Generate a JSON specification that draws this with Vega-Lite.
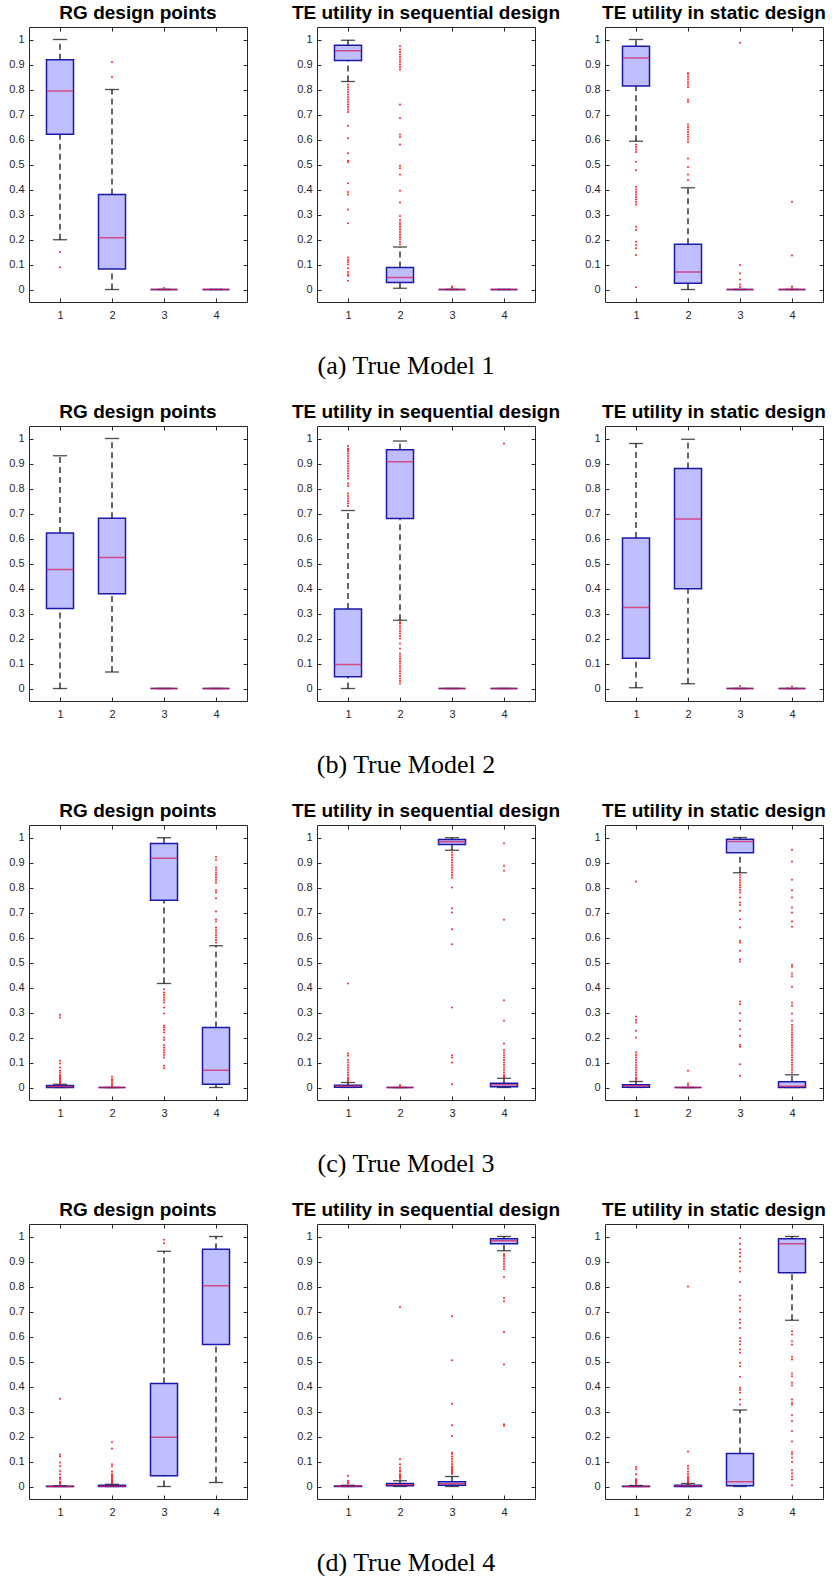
{
"$schema": "https://vega.github.io/schema/vega-lite/v6.json",
"background": "white",
"padding": {"left": 8, "top": 4, "right": 0, "bottom": 0},
"spacing": 24,
"datasets": {"d": [
{"m":"a","p":"R","c":1,"q1":0.621,"md":0.794,"q3":0.919,"lo":0.199,"hi":1},
{"m":"a","p":"R","c":2,"q1":0.082,"md":0.207,"q3":0.38,"lo":0,"hi":0.8},
{"m":"a","p":"R","c":3,"q1":0,"md":0,"q3":0,"lo":0,"hi":0},
{"m":"a","p":"R","c":4,"q1":0,"md":0,"q3":0,"lo":0,"hi":0},
{"m":"a","p":"Q","c":1,"q1":0.916,"md":0.955,"q3":0.977,"lo":0.832,"hi":0.997},
{"m":"a","p":"Q","c":2,"q1":0.028,"md":0.048,"q3":0.088,"lo":0.005,"hi":0.17},
{"m":"a","p":"Q","c":3,"q1":0,"md":0,"q3":0,"lo":0,"hi":0},
{"m":"a","p":"Q","c":4,"q1":0,"md":0,"q3":0,"lo":0,"hi":0},
{"m":"a","p":"S","c":1,"q1":0.814,"md":0.926,"q3":0.973,"lo":0.593,"hi":1},
{"m":"a","p":"S","c":2,"q1":0.025,"md":0.07,"q3":0.181,"lo":0,"hi":0.407},
{"m":"a","p":"S","c":3,"q1":0,"md":0,"q3":0,"lo":0,"hi":0},
{"m":"a","p":"S","c":4,"q1":0,"md":0,"q3":0,"lo":0,"hi":0},
{"m":"b","p":"R","c":1,"q1":0.32,"md":0.476,"q3":0.622,"lo":0,"hi":0.931},
{"m":"b","p":"R","c":2,"q1":0.379,"md":0.524,"q3":0.681,"lo":0.066,"hi":1},
{"m":"b","p":"R","c":3,"q1":0,"md":0,"q3":0,"lo":0,"hi":0},
{"m":"b","p":"R","c":4,"q1":0,"md":0,"q3":0,"lo":0,"hi":0},
{"m":"b","p":"Q","c":1,"q1":0.047,"md":0.096,"q3":0.318,"lo":0,"hi":0.712},
{"m":"b","p":"Q","c":2,"q1":0.68,"md":0.907,"q3":0.955,"lo":0.273,"hi":0.99},
{"m":"b","p":"Q","c":3,"q1":0,"md":0,"q3":0,"lo":0,"hi":0},
{"m":"b","p":"Q","c":4,"q1":0,"md":0,"q3":0,"lo":0,"hi":0},
{"m":"b","p":"S","c":1,"q1":0.121,"md":0.324,"q3":0.602,"lo":0.003,"hi":0.98},
{"m":"b","p":"S","c":2,"q1":0.399,"md":0.678,"q3":0.88,"lo":0.019,"hi":0.997},
{"m":"b","p":"S","c":3,"q1":0,"md":0,"q3":0,"lo":0,"hi":0},
{"m":"b","p":"S","c":4,"q1":0,"md":0,"q3":0,"lo":0,"hi":0},
{"m":"c","p":"R","c":1,"q1":0,"md":0.004,"q3":0.008,"lo":0,"hi":0.013},
{"m":"c","p":"R","c":2,"q1":0,"md":0,"q3":0,"lo":0,"hi":0},
{"m":"c","p":"R","c":3,"q1":0.749,"md":0.917,"q3":0.976,"lo":0.416,"hi":0.999},
{"m":"c","p":"R","c":4,"q1":0.013,"md":0.069,"q3":0.24,"lo":0,"hi":0.567},
{"m":"c","p":"Q","c":1,"q1":0.001,"md":0.006,"q3":0.009,"lo":0,"hi":0.02},
{"m":"c","p":"Q","c":2,"q1":0,"md":0,"q3":0,"lo":0,"hi":0},
{"m":"c","p":"Q","c":3,"q1":0.972,"md":0.983,"q3":0.992,"lo":0.949,"hi":0.999},
{"m":"c","p":"Q","c":4,"q1":0.003,"md":0.011,"q3":0.017,"lo":0,"hi":0.037},
{"m":"c","p":"S","c":1,"q1":0.001,"md":0.007,"q3":0.011,"lo":0,"hi":0.024},
{"m":"c","p":"S","c":2,"q1":0,"md":0,"q3":0,"lo":0,"hi":0},
{"m":"c","p":"S","c":3,"q1":0.939,"md":0.984,"q3":0.993,"lo":0.859,"hi":1},
{"m":"c","p":"S","c":4,"q1":0,"md":0.005,"q3":0.023,"lo":0,"hi":0.051},
{"m":"d","p":"R","c":1,"q1":0,"md":0,"q3":0.001,"lo":0,"hi":0.003},
{"m":"d","p":"R","c":2,"q1":0,"md":0.001,"q3":0.005,"lo":0,"hi":0.009},
{"m":"d","p":"R","c":3,"q1":0.043,"md":0.197,"q3":0.412,"lo":0,"hi":0.941},
{"m":"d","p":"R","c":4,"q1":0.568,"md":0.803,"q3":0.949,"lo":0.016,"hi":1},
{"m":"d","p":"Q","c":1,"q1":0,"md":0.001,"q3":0.002,"lo":0,"hi":0.005},
{"m":"d","p":"Q","c":2,"q1":0.003,"md":0.007,"q3":0.012,"lo":0,"hi":0.023},
{"m":"d","p":"Q","c":3,"q1":0.005,"md":0.011,"q3":0.019,"lo":0,"hi":0.04},
{"m":"d","p":"Q","c":4,"q1":0.971,"md":0.983,"q3":0.991,"lo":0.943,"hi":1},
{"m":"d","p":"S","c":1,"q1":0,"md":0,"q3":0.001,"lo":0,"hi":0.004},
{"m":"d","p":"S","c":2,"q1":0,"md":0.003,"q3":0.005,"lo":0,"hi":0.012},
{"m":"d","p":"S","c":3,"q1":0.003,"md":0.019,"q3":0.132,"lo":0,"hi":0.306},
{"m":"d","p":"S","c":4,"q1":0.855,"md":0.971,"q3":0.991,"lo":0.665,"hi":1},
{"m":"a","p":"R","c":1,"v":0.15},{"m":"a","p":"R","c":1,"v":0.089},
{"m":"a","p":"R","c":2,"v":0.85},{"m":"a","p":"R","c":2,"v":0.91},
{"m":"a","p":"R","c":3,"v":0.006},
{"m":"a","p":"Q","c":1,"v":0.82},{"m":"a","p":"Q","c":1,"v":0.81},{"m":"a","p":"Q","c":1,"v":0.8},{"m":"a","p":"Q","c":1,"v":0.79},{"m":"a","p":"Q","c":1,"v":0.78},{"m":"a","p":"Q","c":1,"v":0.77},{"m":"a","p":"Q","c":1,"v":0.76},{"m":"a","p":"Q","c":1,"v":0.75},{"m":"a","p":"Q","c":1,"v":0.74},{"m":"a","p":"Q","c":1,"v":0.73},{"m":"a","p":"Q","c":1,"v":0.72},{"m":"a","p":"Q","c":1,"v":0.71},{"m":"a","p":"Q","c":1,"v":0.655},{"m":"a","p":"Q","c":1,"v":0.605},{"m":"a","p":"Q","c":1,"v":0.545},{"m":"a","p":"Q","c":1,"v":0.515},{"m":"a","p":"Q","c":1,"v":0.51},{"m":"a","p":"Q","c":1,"v":0.425},{"m":"a","p":"Q","c":1,"v":0.39},{"m":"a","p":"Q","c":1,"v":0.38},{"m":"a","p":"Q","c":1,"v":0.32},{"m":"a","p":"Q","c":1,"v":0.265},{"m":"a","p":"Q","c":1,"v":0.128},{"m":"a","p":"Q","c":1,"v":0.118},{"m":"a","p":"Q","c":1,"v":0.11},{"m":"a","p":"Q","c":1,"v":0.1},{"m":"a","p":"Q","c":1,"v":0.085},{"m":"a","p":"Q","c":1,"v":0.07},{"m":"a","p":"Q","c":1,"v":0.06},{"m":"a","p":"Q","c":1,"v":0.055},{"m":"a","p":"Q","c":1,"v":0.035},
{"m":"a","p":"Q","c":2,"v":0.973},{"m":"a","p":"Q","c":2,"v":0.96},{"m":"a","p":"Q","c":2,"v":0.95},{"m":"a","p":"Q","c":2,"v":0.94},{"m":"a","p":"Q","c":2,"v":0.93},{"m":"a","p":"Q","c":2,"v":0.92},{"m":"a","p":"Q","c":2,"v":0.91},{"m":"a","p":"Q","c":2,"v":0.9},{"m":"a","p":"Q","c":2,"v":0.89},{"m":"a","p":"Q","c":2,"v":0.88},{"m":"a","p":"Q","c":2,"v":0.74},{"m":"a","p":"Q","c":2,"v":0.686},{"m":"a","p":"Q","c":2,"v":0.62},{"m":"a","p":"Q","c":2,"v":0.61},{"m":"a","p":"Q","c":2,"v":0.58},{"m":"a","p":"Q","c":2,"v":0.495},{"m":"a","p":"Q","c":2,"v":0.485},{"m":"a","p":"Q","c":2,"v":0.46},{"m":"a","p":"Q","c":2,"v":0.395},{"m":"a","p":"Q","c":2,"v":0.348},{"m":"a","p":"Q","c":2,"v":0.294},{"m":"a","p":"Q","c":2,"v":0.278},{"m":"a","p":"Q","c":2,"v":0.267},{"m":"a","p":"Q","c":2,"v":0.26},{"m":"a","p":"Q","c":2,"v":0.25},{"m":"a","p":"Q","c":2,"v":0.24},{"m":"a","p":"Q","c":2,"v":0.23},{"m":"a","p":"Q","c":2,"v":0.22},{"m":"a","p":"Q","c":2,"v":0.21},{"m":"a","p":"Q","c":2,"v":0.2},{"m":"a","p":"Q","c":2,"v":0.19},{"m":"a","p":"Q","c":2,"v":0.18},
{"m":"a","p":"Q","c":3,"v":0.012},{"m":"a","p":"Q","c":3,"v":0.007},
{"m":"a","p":"S","c":1,"v":0.58},{"m":"a","p":"S","c":1,"v":0.57},{"m":"a","p":"S","c":1,"v":0.56},{"m":"a","p":"S","c":1,"v":0.55},{"m":"a","p":"S","c":1,"v":0.511},{"m":"a","p":"S","c":1,"v":0.477},{"m":"a","p":"S","c":1,"v":0.411},{"m":"a","p":"S","c":1,"v":0.4},{"m":"a","p":"S","c":1,"v":0.39},{"m":"a","p":"S","c":1,"v":0.38},{"m":"a","p":"S","c":1,"v":0.37},{"m":"a","p":"S","c":1,"v":0.36},{"m":"a","p":"S","c":1,"v":0.35},{"m":"a","p":"S","c":1,"v":0.34},{"m":"a","p":"S","c":1,"v":0.251},{"m":"a","p":"S","c":1,"v":0.238},{"m":"a","p":"S","c":1,"v":0.191},{"m":"a","p":"S","c":1,"v":0.178},{"m":"a","p":"S","c":1,"v":0.165},{"m":"a","p":"S","c":1,"v":0.138},{"m":"a","p":"S","c":1,"v":0.009},
{"m":"a","p":"S","c":2,"v":0.866},{"m":"a","p":"S","c":2,"v":0.86},{"m":"a","p":"S","c":2,"v":0.85},{"m":"a","p":"S","c":2,"v":0.84},{"m":"a","p":"S","c":2,"v":0.83},{"m":"a","p":"S","c":2,"v":0.82},{"m":"a","p":"S","c":2,"v":0.81},{"m":"a","p":"S","c":2,"v":0.759},{"m":"a","p":"S","c":2,"v":0.75},{"m":"a","p":"S","c":2,"v":0.66},{"m":"a","p":"S","c":2,"v":0.65},{"m":"a","p":"S","c":2,"v":0.64},{"m":"a","p":"S","c":2,"v":0.63},{"m":"a","p":"S","c":2,"v":0.62},{"m":"a","p":"S","c":2,"v":0.61},{"m":"a","p":"S","c":2,"v":0.6},{"m":"a","p":"S","c":2,"v":0.59},{"m":"a","p":"S","c":2,"v":0.524},{"m":"a","p":"S","c":2,"v":0.49},{"m":"a","p":"S","c":2,"v":0.46},{"m":"a","p":"S","c":2,"v":0.437},
{"m":"a","p":"S","c":3,"v":0.987},{"m":"a","p":"S","c":3,"v":0.098},{"m":"a","p":"S","c":3,"v":0.065},{"m":"a","p":"S","c":3,"v":0.04},{"m":"a","p":"S","c":3,"v":0.02},{"m":"a","p":"S","c":3,"v":0.01},
{"m":"a","p":"S","c":4,"v":0.351},{"m":"a","p":"S","c":4,"v":0.136},{"m":"a","p":"S","c":4,"v":0.012},{"m":"a","p":"S","c":4,"v":0.005},
{"m":"b","p":"Q","c":1,"v":0.97},{"m":"b","p":"Q","c":1,"v":0.96},{"m":"b","p":"Q","c":1,"v":0.955},{"m":"b","p":"Q","c":1,"v":0.95},{"m":"b","p":"Q","c":1,"v":0.94},{"m":"b","p":"Q","c":1,"v":0.93},{"m":"b","p":"Q","c":1,"v":0.92},{"m":"b","p":"Q","c":1,"v":0.91},{"m":"b","p":"Q","c":1,"v":0.9},{"m":"b","p":"Q","c":1,"v":0.89},{"m":"b","p":"Q","c":1,"v":0.88},{"m":"b","p":"Q","c":1,"v":0.87},{"m":"b","p":"Q","c":1,"v":0.86},{"m":"b","p":"Q","c":1,"v":0.85},{"m":"b","p":"Q","c":1,"v":0.84},{"m":"b","p":"Q","c":1,"v":0.82},{"m":"b","p":"Q","c":1,"v":0.81},{"m":"b","p":"Q","c":1,"v":0.78},{"m":"b","p":"Q","c":1,"v":0.77},{"m":"b","p":"Q","c":1,"v":0.76},{"m":"b","p":"Q","c":1,"v":0.75},{"m":"b","p":"Q","c":1,"v":0.74},{"m":"b","p":"Q","c":1,"v":0.73},
{"m":"b","p":"Q","c":2,"v":0.265},{"m":"b","p":"Q","c":2,"v":0.26},{"m":"b","p":"Q","c":2,"v":0.25},{"m":"b","p":"Q","c":2,"v":0.24},{"m":"b","p":"Q","c":2,"v":0.23},{"m":"b","p":"Q","c":2,"v":0.22},{"m":"b","p":"Q","c":2,"v":0.21},{"m":"b","p":"Q","c":2,"v":0.2},{"m":"b","p":"Q","c":2,"v":0.18},{"m":"b","p":"Q","c":2,"v":0.16},{"m":"b","p":"Q","c":2,"v":0.14},{"m":"b","p":"Q","c":2,"v":0.13},{"m":"b","p":"Q","c":2,"v":0.12},{"m":"b","p":"Q","c":2,"v":0.11},{"m":"b","p":"Q","c":2,"v":0.1},{"m":"b","p":"Q","c":2,"v":0.09},{"m":"b","p":"Q","c":2,"v":0.08},{"m":"b","p":"Q","c":2,"v":0.07},{"m":"b","p":"Q","c":2,"v":0.06},{"m":"b","p":"Q","c":2,"v":0.05},{"m":"b","p":"Q","c":2,"v":0.04},{"m":"b","p":"Q","c":2,"v":0.03},{"m":"b","p":"Q","c":2,"v":0.02},
{"m":"b","p":"Q","c":4,"v":0.98},
{"m":"b","p":"S","c":3,"v":0.01},{"m":"b","p":"S","c":4,"v":0.008},
{"m":"c","p":"R","c":1,"v":0.291},{"m":"c","p":"R","c":1,"v":0.28},{"m":"c","p":"R","c":1,"v":0.107},{"m":"c","p":"R","c":1,"v":0.096},{"m":"c","p":"R","c":1,"v":0.08},{"m":"c","p":"R","c":1,"v":0.067},{"m":"c","p":"R","c":1,"v":0.06},{"m":"c","p":"R","c":1,"v":0.05},{"m":"c","p":"R","c":1,"v":0.045},{"m":"c","p":"R","c":1,"v":0.04},{"m":"c","p":"R","c":1,"v":0.035},{"m":"c","p":"R","c":1,"v":0.03},{"m":"c","p":"R","c":1,"v":0.025},{"m":"c","p":"R","c":1,"v":0.02},{"m":"c","p":"R","c":1,"v":0.015},
{"m":"c","p":"R","c":2,"v":0.043},{"m":"c","p":"R","c":2,"v":0.033},{"m":"c","p":"R","c":2,"v":0.027},{"m":"c","p":"R","c":2,"v":0.02},{"m":"c","p":"R","c":2,"v":0.013},{"m":"c","p":"R","c":2,"v":0.007},
{"m":"c","p":"R","c":3,"v":0.393},{"m":"c","p":"R","c":3,"v":0.38},{"m":"c","p":"R","c":3,"v":0.37},{"m":"c","p":"R","c":3,"v":0.36},{"m":"c","p":"R","c":3,"v":0.35},{"m":"c","p":"R","c":3,"v":0.34},{"m":"c","p":"R","c":3,"v":0.32},{"m":"c","p":"R","c":3,"v":0.296},{"m":"c","p":"R","c":3,"v":0.247},{"m":"c","p":"R","c":3,"v":0.24},{"m":"c","p":"R","c":3,"v":0.23},{"m":"c","p":"R","c":3,"v":0.22},{"m":"c","p":"R","c":3,"v":0.2},{"m":"c","p":"R","c":3,"v":0.19},{"m":"c","p":"R","c":3,"v":0.17},{"m":"c","p":"R","c":3,"v":0.16},{"m":"c","p":"R","c":3,"v":0.15},{"m":"c","p":"R","c":3,"v":0.14},{"m":"c","p":"R","c":3,"v":0.13},{"m":"c","p":"R","c":3,"v":0.12},{"m":"c","p":"R","c":3,"v":0.087},{"m":"c","p":"R","c":3,"v":0.077},
{"m":"c","p":"R","c":4,"v":0.923},{"m":"c","p":"R","c":4,"v":0.911},{"m":"c","p":"R","c":4,"v":0.88},{"m":"c","p":"R","c":4,"v":0.87},{"m":"c","p":"R","c":4,"v":0.86},{"m":"c","p":"R","c":4,"v":0.85},{"m":"c","p":"R","c":4,"v":0.84},{"m":"c","p":"R","c":4,"v":0.83},{"m":"c","p":"R","c":4,"v":0.82},{"m":"c","p":"R","c":4,"v":0.789},{"m":"c","p":"R","c":4,"v":0.78},{"m":"c","p":"R","c":4,"v":0.757},{"m":"c","p":"R","c":4,"v":0.704},{"m":"c","p":"R","c":4,"v":0.673},{"m":"c","p":"R","c":4,"v":0.664},{"m":"c","p":"R","c":4,"v":0.64},{"m":"c","p":"R","c":4,"v":0.63},{"m":"c","p":"R","c":4,"v":0.62},{"m":"c","p":"R","c":4,"v":0.61},{"m":"c","p":"R","c":4,"v":0.6},{"m":"c","p":"R","c":4,"v":0.59},{"m":"c","p":"R","c":4,"v":0.58},
{"m":"c","p":"Q","c":1,"v":0.416},{"m":"c","p":"Q","c":1,"v":0.136},{"m":"c","p":"Q","c":1,"v":0.127},{"m":"c","p":"Q","c":1,"v":0.11},{"m":"c","p":"Q","c":1,"v":0.1},{"m":"c","p":"Q","c":1,"v":0.09},{"m":"c","p":"Q","c":1,"v":0.08},{"m":"c","p":"Q","c":1,"v":0.07},{"m":"c","p":"Q","c":1,"v":0.06},{"m":"c","p":"Q","c":1,"v":0.05},{"m":"c","p":"Q","c":1,"v":0.04},{"m":"c","p":"Q","c":1,"v":0.035},{"m":"c","p":"Q","c":1,"v":0.03},{"m":"c","p":"Q","c":1,"v":0.025},
{"m":"c","p":"Q","c":2,"v":0.01},{"m":"c","p":"Q","c":2,"v":0.006},
{"m":"c","p":"Q","c":3,"v":0.94},{"m":"c","p":"Q","c":3,"v":0.93},{"m":"c","p":"Q","c":3,"v":0.92},{"m":"c","p":"Q","c":3,"v":0.91},{"m":"c","p":"Q","c":3,"v":0.9},{"m":"c","p":"Q","c":3,"v":0.89},{"m":"c","p":"Q","c":3,"v":0.88},{"m":"c","p":"Q","c":3,"v":0.87},{"m":"c","p":"Q","c":3,"v":0.86},{"m":"c","p":"Q","c":3,"v":0.85},{"m":"c","p":"Q","c":3,"v":0.84},{"m":"c","p":"Q","c":3,"v":0.8},{"m":"c","p":"Q","c":3,"v":0.717},{"m":"c","p":"Q","c":3,"v":0.7},{"m":"c","p":"Q","c":3,"v":0.633},{"m":"c","p":"Q","c":3,"v":0.573},{"m":"c","p":"Q","c":3,"v":0.32},{"m":"c","p":"Q","c":3,"v":0.129},{"m":"c","p":"Q","c":3,"v":0.12},{"m":"c","p":"Q","c":3,"v":0.1},{"m":"c","p":"Q","c":3,"v":0.013},
{"m":"c","p":"Q","c":4,"v":0.977},{"m":"c","p":"Q","c":4,"v":0.887},{"m":"c","p":"Q","c":4,"v":0.867},{"m":"c","p":"Q","c":4,"v":0.671},{"m":"c","p":"Q","c":4,"v":0.349},{"m":"c","p":"Q","c":4,"v":0.267},{"m":"c","p":"Q","c":4,"v":0.176},{"m":"c","p":"Q","c":4,"v":0.15},{"m":"c","p":"Q","c":4,"v":0.14},{"m":"c","p":"Q","c":4,"v":0.13},{"m":"c","p":"Q","c":4,"v":0.12},{"m":"c","p":"Q","c":4,"v":0.11},{"m":"c","p":"Q","c":4,"v":0.1},{"m":"c","p":"Q","c":4,"v":0.09},{"m":"c","p":"Q","c":4,"v":0.08},{"m":"c","p":"Q","c":4,"v":0.07},{"m":"c","p":"Q","c":4,"v":0.06},{"m":"c","p":"Q","c":4,"v":0.05},{"m":"c","p":"Q","c":4,"v":0.045},{"m":"c","p":"Q","c":4,"v":0.04},
{"m":"c","p":"S","c":1,"v":0.824},{"m":"c","p":"S","c":1,"v":0.284},{"m":"c","p":"S","c":1,"v":0.27},{"m":"c","p":"S","c":1,"v":0.26},{"m":"c","p":"S","c":1,"v":0.227},{"m":"c","p":"S","c":1,"v":0.2},{"m":"c","p":"S","c":1,"v":0.14},{"m":"c","p":"S","c":1,"v":0.13},{"m":"c","p":"S","c":1,"v":0.12},{"m":"c","p":"S","c":1,"v":0.11},{"m":"c","p":"S","c":1,"v":0.1},{"m":"c","p":"S","c":1,"v":0.09},{"m":"c","p":"S","c":1,"v":0.08},{"m":"c","p":"S","c":1,"v":0.07},{"m":"c","p":"S","c":1,"v":0.06},{"m":"c","p":"S","c":1,"v":0.05},{"m":"c","p":"S","c":1,"v":0.04},{"m":"c","p":"S","c":1,"v":0.035},{"m":"c","p":"S","c":1,"v":0.03},
{"m":"c","p":"S","c":2,"v":0.067},{"m":"c","p":"S","c":2,"v":0.016},{"m":"c","p":"S","c":2,"v":0.009},
{"m":"c","p":"S","c":3,"v":0.85},{"m":"c","p":"S","c":3,"v":0.84},{"m":"c","p":"S","c":3,"v":0.83},{"m":"c","p":"S","c":3,"v":0.82},{"m":"c","p":"S","c":3,"v":0.81},{"m":"c","p":"S","c":3,"v":0.8},{"m":"c","p":"S","c":3,"v":0.79},{"m":"c","p":"S","c":3,"v":0.78},{"m":"c","p":"S","c":3,"v":0.76},{"m":"c","p":"S","c":3,"v":0.74},{"m":"c","p":"S","c":3,"v":0.73},{"m":"c","p":"S","c":3,"v":0.707},{"m":"c","p":"S","c":3,"v":0.673},{"m":"c","p":"S","c":3,"v":0.64},{"m":"c","p":"S","c":3,"v":0.587},{"m":"c","p":"S","c":3,"v":0.58},{"m":"c","p":"S","c":3,"v":0.547},{"m":"c","p":"S","c":3,"v":0.513},{"m":"c","p":"S","c":3,"v":0.504},{"m":"c","p":"S","c":3,"v":0.344},{"m":"c","p":"S","c":3,"v":0.333},{"m":"c","p":"S","c":3,"v":0.297},{"m":"c","p":"S","c":3,"v":0.267},{"m":"c","p":"S","c":3,"v":0.233},{"m":"c","p":"S","c":3,"v":0.207},{"m":"c","p":"S","c":3,"v":0.171},{"m":"c","p":"S","c":3,"v":0.163},{"m":"c","p":"S","c":3,"v":0.093},{"m":"c","p":"S","c":3,"v":0.047},
{"m":"c","p":"S","c":4,"v":0.951},{"m":"c","p":"S","c":4,"v":0.904},{"m":"c","p":"S","c":4,"v":0.831},{"m":"c","p":"S","c":4,"v":0.789},{"m":"c","p":"S","c":4,"v":0.76},{"m":"c","p":"S","c":4,"v":0.72},{"m":"c","p":"S","c":4,"v":0.7},{"m":"c","p":"S","c":4,"v":0.664},{"m":"c","p":"S","c":4,"v":0.643},{"m":"c","p":"S","c":4,"v":0.491},{"m":"c","p":"S","c":4,"v":0.483},{"m":"c","p":"S","c":4,"v":0.456},{"m":"c","p":"S","c":4,"v":0.445},{"m":"c","p":"S","c":4,"v":0.403},{"m":"c","p":"S","c":4,"v":0.339},{"m":"c","p":"S","c":4,"v":0.327},{"m":"c","p":"S","c":4,"v":0.296},{"m":"c","p":"S","c":4,"v":0.267},{"m":"c","p":"S","c":4,"v":0.25},{"m":"c","p":"S","c":4,"v":0.24},{"m":"c","p":"S","c":4,"v":0.23},{"m":"c","p":"S","c":4,"v":0.22},{"m":"c","p":"S","c":4,"v":0.21},{"m":"c","p":"S","c":4,"v":0.2},{"m":"c","p":"S","c":4,"v":0.19},{"m":"c","p":"S","c":4,"v":0.18},{"m":"c","p":"S","c":4,"v":0.17},{"m":"c","p":"S","c":4,"v":0.16},{"m":"c","p":"S","c":4,"v":0.15},{"m":"c","p":"S","c":4,"v":0.14},{"m":"c","p":"S","c":4,"v":0.13},{"m":"c","p":"S","c":4,"v":0.12},{"m":"c","p":"S","c":4,"v":0.11},{"m":"c","p":"S","c":4,"v":0.1},{"m":"c","p":"S","c":4,"v":0.09},{"m":"c","p":"S","c":4,"v":0.08},{"m":"c","p":"S","c":4,"v":0.07},{"m":"c","p":"S","c":4,"v":0.06},
{"m":"d","p":"R","c":1,"v":0.351},{"m":"d","p":"R","c":1,"v":0.128},{"m":"d","p":"R","c":1,"v":0.12},{"m":"d","p":"R","c":1,"v":0.096},{"m":"d","p":"R","c":1,"v":0.082},{"m":"d","p":"R","c":1,"v":0.062},{"m":"d","p":"R","c":1,"v":0.049},{"m":"d","p":"R","c":1,"v":0.036},{"m":"d","p":"R","c":1,"v":0.03},{"m":"d","p":"R","c":1,"v":0.02},{"m":"d","p":"R","c":1,"v":0.015},{"m":"d","p":"R","c":1,"v":0.01},
{"m":"d","p":"R","c":2,"v":0.178},{"m":"d","p":"R","c":2,"v":0.152},{"m":"d","p":"R","c":2,"v":0.089},{"m":"d","p":"R","c":2,"v":0.08},{"m":"d","p":"R","c":2,"v":0.06},{"m":"d","p":"R","c":2,"v":0.05},{"m":"d","p":"R","c":2,"v":0.045},{"m":"d","p":"R","c":2,"v":0.04},{"m":"d","p":"R","c":2,"v":0.035},{"m":"d","p":"R","c":2,"v":0.03},{"m":"d","p":"R","c":2,"v":0.025},{"m":"d","p":"R","c":2,"v":0.02},{"m":"d","p":"R","c":2,"v":0.015},{"m":"d","p":"R","c":2,"v":0.012},
{"m":"d","p":"R","c":3,"v":0.987},{"m":"d","p":"R","c":3,"v":0.973},
{"m":"d","p":"Q","c":1,"v":0.043},{"m":"d","p":"Q","c":1,"v":0.023},{"m":"d","p":"Q","c":1,"v":0.016},{"m":"d","p":"Q","c":1,"v":0.012},
{"m":"d","p":"Q","c":2,"v":0.718},{"m":"d","p":"Q","c":2,"v":0.109},{"m":"d","p":"Q","c":2,"v":0.089},{"m":"d","p":"Q","c":2,"v":0.075},{"m":"d","p":"Q","c":2,"v":0.065},{"m":"d","p":"Q","c":2,"v":0.06},{"m":"d","p":"Q","c":2,"v":0.05},{"m":"d","p":"Q","c":2,"v":0.045},{"m":"d","p":"Q","c":2,"v":0.04},{"m":"d","p":"Q","c":2,"v":0.035},{"m":"d","p":"Q","c":2,"v":0.03},
{"m":"d","p":"Q","c":3,"v":0.681},{"m":"d","p":"Q","c":3,"v":0.505},{"m":"d","p":"Q","c":3,"v":0.331},{"m":"d","p":"Q","c":3,"v":0.245},{"m":"d","p":"Q","c":3,"v":0.202},{"m":"d","p":"Q","c":3,"v":0.135},{"m":"d","p":"Q","c":3,"v":0.13},{"m":"d","p":"Q","c":3,"v":0.12},{"m":"d","p":"Q","c":3,"v":0.11},{"m":"d","p":"Q","c":3,"v":0.1},{"m":"d","p":"Q","c":3,"v":0.09},{"m":"d","p":"Q","c":3,"v":0.08},{"m":"d","p":"Q","c":3,"v":0.075},{"m":"d","p":"Q","c":3,"v":0.07},{"m":"d","p":"Q","c":3,"v":0.065},{"m":"d","p":"Q","c":3,"v":0.06},{"m":"d","p":"Q","c":3,"v":0.055},{"m":"d","p":"Q","c":3,"v":0.05},
{"m":"d","p":"Q","c":4,"v":0.93},{"m":"d","p":"Q","c":4,"v":0.925},{"m":"d","p":"Q","c":4,"v":0.92},{"m":"d","p":"Q","c":4,"v":0.91},{"m":"d","p":"Q","c":4,"v":0.9},{"m":"d","p":"Q","c":4,"v":0.89},{"m":"d","p":"Q","c":4,"v":0.88},{"m":"d","p":"Q","c":4,"v":0.87},{"m":"d","p":"Q","c":4,"v":0.838},{"m":"d","p":"Q","c":4,"v":0.754},{"m":"d","p":"Q","c":4,"v":0.741},{"m":"d","p":"Q","c":4,"v":0.618},{"m":"d","p":"Q","c":4,"v":0.488},{"m":"d","p":"Q","c":4,"v":0.249},{"m":"d","p":"Q","c":4,"v":0.242},
{"m":"d","p":"S","c":1,"v":0.078},{"m":"d","p":"S","c":1,"v":0.069},{"m":"d","p":"S","c":1,"v":0.049},{"m":"d","p":"S","c":1,"v":0.03},{"m":"d","p":"S","c":1,"v":0.025},{"m":"d","p":"S","c":1,"v":0.02},{"m":"d","p":"S","c":1,"v":0.015},{"m":"d","p":"S","c":1,"v":0.01},
{"m":"d","p":"S","c":2,"v":0.8},{"m":"d","p":"S","c":2,"v":0.14},{"m":"d","p":"S","c":2,"v":0.082},{"m":"d","p":"S","c":2,"v":0.072},{"m":"d","p":"S","c":2,"v":0.06},{"m":"d","p":"S","c":2,"v":0.05},{"m":"d","p":"S","c":2,"v":0.04},{"m":"d","p":"S","c":2,"v":0.035},{"m":"d","p":"S","c":2,"v":0.03},{"m":"d","p":"S","c":2,"v":0.025},{"m":"d","p":"S","c":2,"v":0.02},{"m":"d","p":"S","c":2,"v":0.015},
{"m":"d","p":"S","c":3,"v":0.993},{"m":"d","p":"S","c":3,"v":0.971},{"m":"d","p":"S","c":3,"v":0.949},{"m":"d","p":"S","c":3,"v":0.934},{"m":"d","p":"S","c":3,"v":0.92},{"m":"d","p":"S","c":3,"v":0.9},{"m":"d","p":"S","c":3,"v":0.874},{"m":"d","p":"S","c":3,"v":0.86},{"m":"d","p":"S","c":3,"v":0.818},{"m":"d","p":"S","c":3,"v":0.763},{"m":"d","p":"S","c":3,"v":0.747},{"m":"d","p":"S","c":3,"v":0.714},{"m":"d","p":"S","c":3,"v":0.7},{"m":"d","p":"S","c":3,"v":0.668},{"m":"d","p":"S","c":3,"v":0.654},{"m":"d","p":"S","c":3,"v":0.634},{"m":"d","p":"S","c":3,"v":0.594},{"m":"d","p":"S","c":3,"v":0.581},{"m":"d","p":"S","c":3,"v":0.568},{"m":"d","p":"S","c":3,"v":0.548},{"m":"d","p":"S","c":3,"v":0.535},{"m":"d","p":"S","c":3,"v":0.495},{"m":"d","p":"S","c":3,"v":0.481},{"m":"d","p":"S","c":3,"v":0.439},{"m":"d","p":"S","c":3,"v":0.395},{"m":"d","p":"S","c":3,"v":0.386},{"m":"d","p":"S","c":3,"v":0.375},{"m":"d","p":"S","c":3,"v":0.348},{"m":"d","p":"S","c":3,"v":0.328},
{"m":"d","p":"S","c":4,"v":0.621},{"m":"d","p":"S","c":4,"v":0.608},{"m":"d","p":"S","c":4,"v":0.581},{"m":"d","p":"S","c":4,"v":0.568},{"m":"d","p":"S","c":4,"v":0.519},{"m":"d","p":"S","c":4,"v":0.508},{"m":"d","p":"S","c":4,"v":0.452},{"m":"d","p":"S","c":4,"v":0.441},{"m":"d","p":"S","c":4,"v":0.415},{"m":"d","p":"S","c":4,"v":0.404},{"m":"d","p":"S","c":4,"v":0.348},{"m":"d","p":"S","c":4,"v":0.335},{"m":"d","p":"S","c":4,"v":0.328},{"m":"d","p":"S","c":4,"v":0.285},{"m":"d","p":"S","c":4,"v":0.262},{"m":"d","p":"S","c":4,"v":0.222},{"m":"d","p":"S","c":4,"v":0.18},{"m":"d","p":"S","c":4,"v":0.138},{"m":"d","p":"S","c":4,"v":0.129},{"m":"d","p":"S","c":4,"v":0.116},{"m":"d","p":"S","c":4,"v":0.098},{"m":"d","p":"S","c":4,"v":0.065},{"m":"d","p":"S","c":4,"v":0.053},{"m":"d","p":"S","c":4,"v":0.04},{"m":"d","p":"S","c":4,"v":0.029},{"m":"d","p":"S","c":4,"v":0.005}
]},
"vconcat": [
{"data": {"name": "d"}, "transform": [{"filter": "datum.m == 'a'"}],
 "title": {"text": "(a) True Model 1", "orient": "bottom", "anchor": "middle", "frame": "group", "dx": 377, "offset": 32, "baseline": "top"},
 "facet": {"column": {"field": "p", "type": "nominal", "sort": ["R", "Q", "S"], "title": null, "header": {"labelExpr": "datum.value == 'R' ? 'RG design points' : datum.value == 'Q' ? 'TE utility in sequential design' : 'TE utility in static design'"}}},
 "spacing": {"column": 70}, "bounds": "flush",
 "resolve": {"axis": {"x": "independent", "y": "independent"}},
 "spec": {"width": 218, "height": 275,
  "layer": [
   {"transform": [{"filter": {"field": "q3", "valid": true}}], "mark": {"type": "rule", "strokeDash": [6, 4], "color": "#000000", "strokeWidth": 1.2},
    "encoding": {"x": {"field": "c", "type": "quantitative", "title": null, "scale": {"domain": [0.5, 4.5], "nice": false, "zero": false}, "axis": {"orient": "bottom", "values": [1, 2, 3, 4], "format": "d", "labelPadding": 11}},
     "y": {"field": "q3", "type": "quantitative", "title": null, "scale": {"domain": [-0.05, 1.05], "nice": false, "zero": false}, "axis": {"orient": "left", "values": [0, 0.1, 0.2, 0.3, 0.4, 0.5, 0.6, 0.7, 0.8, 0.9, 1], "format": "~g", "labelPadding": 9}},
     "y2": {"field": "hi"}}},
   {"transform": [{"filter": {"field": "q1", "valid": true}}], "mark": {"type": "rule", "strokeDash": [6, 4], "color": "#000000", "strokeWidth": 1.2},
    "encoding": {"x": {"field": "c", "type": "quantitative", "title": null, "scale": {"domain": [0.5, 4.5], "nice": false, "zero": false}, "axis": {"orient": "top", "values": [1, 2, 3, 4], "labels": false}},
     "y": {"field": "lo", "type": "quantitative", "title": null, "scale": {"domain": [-0.05, 1.05], "nice": false, "zero": false}, "axis": {"orient": "right", "values": [0, 0.1, 0.2, 0.3, 0.4, 0.5, 0.6, 0.7, 0.8, 0.9, 1], "labels": false}},
     "y2": {"field": "q1"}}},
   {"transform": [{"filter": {"field": "hi", "valid": true}}], "mark": {"type": "tick", "orient": "horizontal", "size": 14, "thickness": 1.3, "color": "#000000"},
    "encoding": {"x": {"field": "c", "type": "quantitative", "scale": {"domain": [0.5, 4.5], "nice": false, "zero": false}, "axis": null},
     "y": {"field": "hi", "type": "quantitative", "scale": {"domain": [-0.05, 1.05], "nice": false, "zero": false}, "axis": null}}},
   {"transform": [{"filter": {"field": "lo", "valid": true}}], "mark": {"type": "tick", "orient": "horizontal", "size": 14, "thickness": 1.3, "color": "#000000"},
    "encoding": {"x": {"field": "c", "type": "quantitative", "scale": {"domain": [0.5, 4.5], "nice": false, "zero": false}, "axis": null},
     "y": {"field": "lo", "type": "quantitative", "scale": {"domain": [-0.05, 1.05], "nice": false, "zero": false}, "axis": null}}},
   {"transform": [{"filter": {"field": "q1", "valid": true}}], "mark": {"type": "bar", "size": 27, "fill": "#bfbfff", "stroke": "#1a1aa6", "strokeWidth": 1.5},
    "encoding": {"x": {"field": "c", "type": "quantitative", "scale": {"domain": [0.5, 4.5], "nice": false, "zero": false}, "axis": null},
     "y": {"field": "q1", "type": "quantitative", "scale": {"domain": [-0.05, 1.05], "nice": false, "zero": false}, "axis": null}, "y2": {"field": "q3"}}},
   {"transform": [{"filter": {"field": "md", "valid": true}}], "mark": {"type": "tick", "orient": "horizontal", "size": 27, "thickness": 1.5, "color": "#d8174e"},
    "encoding": {"x": {"field": "c", "type": "quantitative", "scale": {"domain": [0.5, 4.5], "nice": false, "zero": false}, "axis": null},
     "y": {"field": "md", "type": "quantitative", "scale": {"domain": [-0.05, 1.05], "nice": false, "zero": false}, "axis": null}}},
   {"transform": [{"filter": {"field": "v", "valid": true}}], "mark": {"type": "point", "filled": true, "size": 4, "color": "#ff2222", "opacity": 1},
    "encoding": {"x": {"field": "c", "type": "quantitative", "scale": {"domain": [0.5, 4.5], "nice": false, "zero": false}, "axis": null},
     "y": {"field": "v", "type": "quantitative", "scale": {"domain": [-0.05, 1.05], "nice": false, "zero": false}, "axis": null}}}
  ],
  "resolve": {"axis": {"x": "independent", "y": "independent"}}}},
{"data": {"name": "d"}, "transform": [{"filter": "datum.m == 'b'"}],
 "title": {"text": "(b) True Model 2", "orient": "bottom", "anchor": "middle", "frame": "group", "dx": 377, "offset": 32, "baseline": "top"},
 "facet": {"column": {"field": "p", "type": "nominal", "sort": ["R", "Q", "S"], "title": null, "header": {"labelExpr": "datum.value == 'R' ? 'RG design points' : datum.value == 'Q' ? 'TE utility in sequential design' : 'TE utility in static design'"}}},
 "spacing": {"column": 70}, "bounds": "flush",
 "resolve": {"axis": {"x": "independent", "y": "independent"}},
 "spec": {"width": 218, "height": 275,
  "layer": [
   {"transform": [{"filter": {"field": "q3", "valid": true}}], "mark": {"type": "rule", "strokeDash": [6, 4], "color": "#000000", "strokeWidth": 1.2},
    "encoding": {"x": {"field": "c", "type": "quantitative", "title": null, "scale": {"domain": [0.5, 4.5], "nice": false, "zero": false}, "axis": {"orient": "bottom", "values": [1, 2, 3, 4], "format": "d", "labelPadding": 11}},
     "y": {"field": "q3", "type": "quantitative", "title": null, "scale": {"domain": [-0.05, 1.05], "nice": false, "zero": false}, "axis": {"orient": "left", "values": [0, 0.1, 0.2, 0.3, 0.4, 0.5, 0.6, 0.7, 0.8, 0.9, 1], "format": "~g", "labelPadding": 9}},
     "y2": {"field": "hi"}}},
   {"transform": [{"filter": {"field": "q1", "valid": true}}], "mark": {"type": "rule", "strokeDash": [6, 4], "color": "#000000", "strokeWidth": 1.2},
    "encoding": {"x": {"field": "c", "type": "quantitative", "title": null, "scale": {"domain": [0.5, 4.5], "nice": false, "zero": false}, "axis": {"orient": "top", "values": [1, 2, 3, 4], "labels": false}},
     "y": {"field": "lo", "type": "quantitative", "title": null, "scale": {"domain": [-0.05, 1.05], "nice": false, "zero": false}, "axis": {"orient": "right", "values": [0, 0.1, 0.2, 0.3, 0.4, 0.5, 0.6, 0.7, 0.8, 0.9, 1], "labels": false}},
     "y2": {"field": "q1"}}},
   {"transform": [{"filter": {"field": "hi", "valid": true}}], "mark": {"type": "tick", "orient": "horizontal", "size": 14, "thickness": 1.3, "color": "#000000"},
    "encoding": {"x": {"field": "c", "type": "quantitative", "scale": {"domain": [0.5, 4.5], "nice": false, "zero": false}, "axis": null},
     "y": {"field": "hi", "type": "quantitative", "scale": {"domain": [-0.05, 1.05], "nice": false, "zero": false}, "axis": null}}},
   {"transform": [{"filter": {"field": "lo", "valid": true}}], "mark": {"type": "tick", "orient": "horizontal", "size": 14, "thickness": 1.3, "color": "#000000"},
    "encoding": {"x": {"field": "c", "type": "quantitative", "scale": {"domain": [0.5, 4.5], "nice": false, "zero": false}, "axis": null},
     "y": {"field": "lo", "type": "quantitative", "scale": {"domain": [-0.05, 1.05], "nice": false, "zero": false}, "axis": null}}},
   {"transform": [{"filter": {"field": "q1", "valid": true}}], "mark": {"type": "bar", "size": 27, "fill": "#bfbfff", "stroke": "#1a1aa6", "strokeWidth": 1.5},
    "encoding": {"x": {"field": "c", "type": "quantitative", "scale": {"domain": [0.5, 4.5], "nice": false, "zero": false}, "axis": null},
     "y": {"field": "q1", "type": "quantitative", "scale": {"domain": [-0.05, 1.05], "nice": false, "zero": false}, "axis": null}, "y2": {"field": "q3"}}},
   {"transform": [{"filter": {"field": "md", "valid": true}}], "mark": {"type": "tick", "orient": "horizontal", "size": 27, "thickness": 1.5, "color": "#d8174e"},
    "encoding": {"x": {"field": "c", "type": "quantitative", "scale": {"domain": [0.5, 4.5], "nice": false, "zero": false}, "axis": null},
     "y": {"field": "md", "type": "quantitative", "scale": {"domain": [-0.05, 1.05], "nice": false, "zero": false}, "axis": null}}},
   {"transform": [{"filter": {"field": "v", "valid": true}}], "mark": {"type": "point", "filled": true, "size": 4, "color": "#ff2222", "opacity": 1},
    "encoding": {"x": {"field": "c", "type": "quantitative", "scale": {"domain": [0.5, 4.5], "nice": false, "zero": false}, "axis": null},
     "y": {"field": "v", "type": "quantitative", "scale": {"domain": [-0.05, 1.05], "nice": false, "zero": false}, "axis": null}}}
  ],
  "resolve": {"axis": {"x": "independent", "y": "independent"}}}},
{"data": {"name": "d"}, "transform": [{"filter": "datum.m == 'c'"}],
 "title": {"text": "(c) True Model 3", "orient": "bottom", "anchor": "middle", "frame": "group", "dx": 377, "offset": 32, "baseline": "top"},
 "facet": {"column": {"field": "p", "type": "nominal", "sort": ["R", "Q", "S"], "title": null, "header": {"labelExpr": "datum.value == 'R' ? 'RG design points' : datum.value == 'Q' ? 'TE utility in sequential design' : 'TE utility in static design'"}}},
 "spacing": {"column": 70}, "bounds": "flush",
 "resolve": {"axis": {"x": "independent", "y": "independent"}},
 "spec": {"width": 218, "height": 275,
  "layer": [
   {"transform": [{"filter": {"field": "q3", "valid": true}}], "mark": {"type": "rule", "strokeDash": [6, 4], "color": "#000000", "strokeWidth": 1.2},
    "encoding": {"x": {"field": "c", "type": "quantitative", "title": null, "scale": {"domain": [0.5, 4.5], "nice": false, "zero": false}, "axis": {"orient": "bottom", "values": [1, 2, 3, 4], "format": "d", "labelPadding": 11}},
     "y": {"field": "q3", "type": "quantitative", "title": null, "scale": {"domain": [-0.05, 1.05], "nice": false, "zero": false}, "axis": {"orient": "left", "values": [0, 0.1, 0.2, 0.3, 0.4, 0.5, 0.6, 0.7, 0.8, 0.9, 1], "format": "~g", "labelPadding": 9}},
     "y2": {"field": "hi"}}},
   {"transform": [{"filter": {"field": "q1", "valid": true}}], "mark": {"type": "rule", "strokeDash": [6, 4], "color": "#000000", "strokeWidth": 1.2},
    "encoding": {"x": {"field": "c", "type": "quantitative", "title": null, "scale": {"domain": [0.5, 4.5], "nice": false, "zero": false}, "axis": {"orient": "top", "values": [1, 2, 3, 4], "labels": false}},
     "y": {"field": "lo", "type": "quantitative", "title": null, "scale": {"domain": [-0.05, 1.05], "nice": false, "zero": false}, "axis": {"orient": "right", "values": [0, 0.1, 0.2, 0.3, 0.4, 0.5, 0.6, 0.7, 0.8, 0.9, 1], "labels": false}},
     "y2": {"field": "q1"}}},
   {"transform": [{"filter": {"field": "hi", "valid": true}}], "mark": {"type": "tick", "orient": "horizontal", "size": 14, "thickness": 1.3, "color": "#000000"},
    "encoding": {"x": {"field": "c", "type": "quantitative", "scale": {"domain": [0.5, 4.5], "nice": false, "zero": false}, "axis": null},
     "y": {"field": "hi", "type": "quantitative", "scale": {"domain": [-0.05, 1.05], "nice": false, "zero": false}, "axis": null}}},
   {"transform": [{"filter": {"field": "lo", "valid": true}}], "mark": {"type": "tick", "orient": "horizontal", "size": 14, "thickness": 1.3, "color": "#000000"},
    "encoding": {"x": {"field": "c", "type": "quantitative", "scale": {"domain": [0.5, 4.5], "nice": false, "zero": false}, "axis": null},
     "y": {"field": "lo", "type": "quantitative", "scale": {"domain": [-0.05, 1.05], "nice": false, "zero": false}, "axis": null}}},
   {"transform": [{"filter": {"field": "q1", "valid": true}}], "mark": {"type": "bar", "size": 27, "fill": "#bfbfff", "stroke": "#1a1aa6", "strokeWidth": 1.5},
    "encoding": {"x": {"field": "c", "type": "quantitative", "scale": {"domain": [0.5, 4.5], "nice": false, "zero": false}, "axis": null},
     "y": {"field": "q1", "type": "quantitative", "scale": {"domain": [-0.05, 1.05], "nice": false, "zero": false}, "axis": null}, "y2": {"field": "q3"}}},
   {"transform": [{"filter": {"field": "md", "valid": true}}], "mark": {"type": "tick", "orient": "horizontal", "size": 27, "thickness": 1.5, "color": "#d8174e"},
    "encoding": {"x": {"field": "c", "type": "quantitative", "scale": {"domain": [0.5, 4.5], "nice": false, "zero": false}, "axis": null},
     "y": {"field": "md", "type": "quantitative", "scale": {"domain": [-0.05, 1.05], "nice": false, "zero": false}, "axis": null}}},
   {"transform": [{"filter": {"field": "v", "valid": true}}], "mark": {"type": "point", "filled": true, "size": 4, "color": "#ff2222", "opacity": 1},
    "encoding": {"x": {"field": "c", "type": "quantitative", "scale": {"domain": [0.5, 4.5], "nice": false, "zero": false}, "axis": null},
     "y": {"field": "v", "type": "quantitative", "scale": {"domain": [-0.05, 1.05], "nice": false, "zero": false}, "axis": null}}}
  ],
  "resolve": {"axis": {"x": "independent", "y": "independent"}}}},
{"data": {"name": "d"}, "transform": [{"filter": "datum.m == 'd'"}],
 "title": {"text": "(d) True Model 4", "orient": "bottom", "anchor": "middle", "frame": "group", "dx": 377, "offset": 32, "baseline": "top"},
 "facet": {"column": {"field": "p", "type": "nominal", "sort": ["R", "Q", "S"], "title": null, "header": {"labelExpr": "datum.value == 'R' ? 'RG design points' : datum.value == 'Q' ? 'TE utility in sequential design' : 'TE utility in static design'"}}},
 "spacing": {"column": 70}, "bounds": "flush",
 "resolve": {"axis": {"x": "independent", "y": "independent"}},
 "spec": {"width": 218, "height": 275,
  "layer": [
   {"transform": [{"filter": {"field": "q3", "valid": true}}], "mark": {"type": "rule", "strokeDash": [6, 4], "color": "#000000", "strokeWidth": 1.2},
    "encoding": {"x": {"field": "c", "type": "quantitative", "title": null, "scale": {"domain": [0.5, 4.5], "nice": false, "zero": false}, "axis": {"orient": "bottom", "values": [1, 2, 3, 4], "format": "d", "labelPadding": 11}},
     "y": {"field": "q3", "type": "quantitative", "title": null, "scale": {"domain": [-0.05, 1.05], "nice": false, "zero": false}, "axis": {"orient": "left", "values": [0, 0.1, 0.2, 0.3, 0.4, 0.5, 0.6, 0.7, 0.8, 0.9, 1], "format": "~g", "labelPadding": 9}},
     "y2": {"field": "hi"}}},
   {"transform": [{"filter": {"field": "q1", "valid": true}}], "mark": {"type": "rule", "strokeDash": [6, 4], "color": "#000000", "strokeWidth": 1.2},
    "encoding": {"x": {"field": "c", "type": "quantitative", "title": null, "scale": {"domain": [0.5, 4.5], "nice": false, "zero": false}, "axis": {"orient": "top", "values": [1, 2, 3, 4], "labels": false}},
     "y": {"field": "lo", "type": "quantitative", "title": null, "scale": {"domain": [-0.05, 1.05], "nice": false, "zero": false}, "axis": {"orient": "right", "values": [0, 0.1, 0.2, 0.3, 0.4, 0.5, 0.6, 0.7, 0.8, 0.9, 1], "labels": false}},
     "y2": {"field": "q1"}}},
   {"transform": [{"filter": {"field": "hi", "valid": true}}], "mark": {"type": "tick", "orient": "horizontal", "size": 14, "thickness": 1.3, "color": "#000000"},
    "encoding": {"x": {"field": "c", "type": "quantitative", "scale": {"domain": [0.5, 4.5], "nice": false, "zero": false}, "axis": null},
     "y": {"field": "hi", "type": "quantitative", "scale": {"domain": [-0.05, 1.05], "nice": false, "zero": false}, "axis": null}}},
   {"transform": [{"filter": {"field": "lo", "valid": true}}], "mark": {"type": "tick", "orient": "horizontal", "size": 14, "thickness": 1.3, "color": "#000000"},
    "encoding": {"x": {"field": "c", "type": "quantitative", "scale": {"domain": [0.5, 4.5], "nice": false, "zero": false}, "axis": null},
     "y": {"field": "lo", "type": "quantitative", "scale": {"domain": [-0.05, 1.05], "nice": false, "zero": false}, "axis": null}}},
   {"transform": [{"filter": {"field": "q1", "valid": true}}], "mark": {"type": "bar", "size": 27, "fill": "#bfbfff", "stroke": "#1a1aa6", "strokeWidth": 1.5},
    "encoding": {"x": {"field": "c", "type": "quantitative", "scale": {"domain": [0.5, 4.5], "nice": false, "zero": false}, "axis": null},
     "y": {"field": "q1", "type": "quantitative", "scale": {"domain": [-0.05, 1.05], "nice": false, "zero": false}, "axis": null}, "y2": {"field": "q3"}}},
   {"transform": [{"filter": {"field": "md", "valid": true}}], "mark": {"type": "tick", "orient": "horizontal", "size": 27, "thickness": 1.5, "color": "#d8174e"},
    "encoding": {"x": {"field": "c", "type": "quantitative", "scale": {"domain": [0.5, 4.5], "nice": false, "zero": false}, "axis": null},
     "y": {"field": "md", "type": "quantitative", "scale": {"domain": [-0.05, 1.05], "nice": false, "zero": false}, "axis": null}}},
   {"transform": [{"filter": {"field": "v", "valid": true}}], "mark": {"type": "point", "filled": true, "size": 4, "color": "#ff2222", "opacity": 1},
    "encoding": {"x": {"field": "c", "type": "quantitative", "scale": {"domain": [0.5, 4.5], "nice": false, "zero": false}, "axis": null},
     "y": {"field": "v", "type": "quantitative", "scale": {"domain": [-0.05, 1.05], "nice": false, "zero": false}, "axis": null}}}
  ],
  "resolve": {"axis": {"x": "independent", "y": "independent"}}}}
],
"config": {
 "view": {"stroke": "#262626", "strokeWidth": 1},
 "axis": {"grid": false, "domain": false, "ticks": true, "tickSize": -4, "tickColor": "#262626", "tickWidth": 1, "labelColor": "#262626", "labelFont": "Liberation Sans", "labelFontSize": 11},
 "header": {"labelFont": "Liberation Sans", "labelFontWeight": "bold", "labelFontSize": 19, "labelColor": "#000000", "labelPadding": 4},
 "title": {"font": "Liberation Serif", "fontSize": 26, "fontWeight": "normal", "color": "#000000"}
}
}
